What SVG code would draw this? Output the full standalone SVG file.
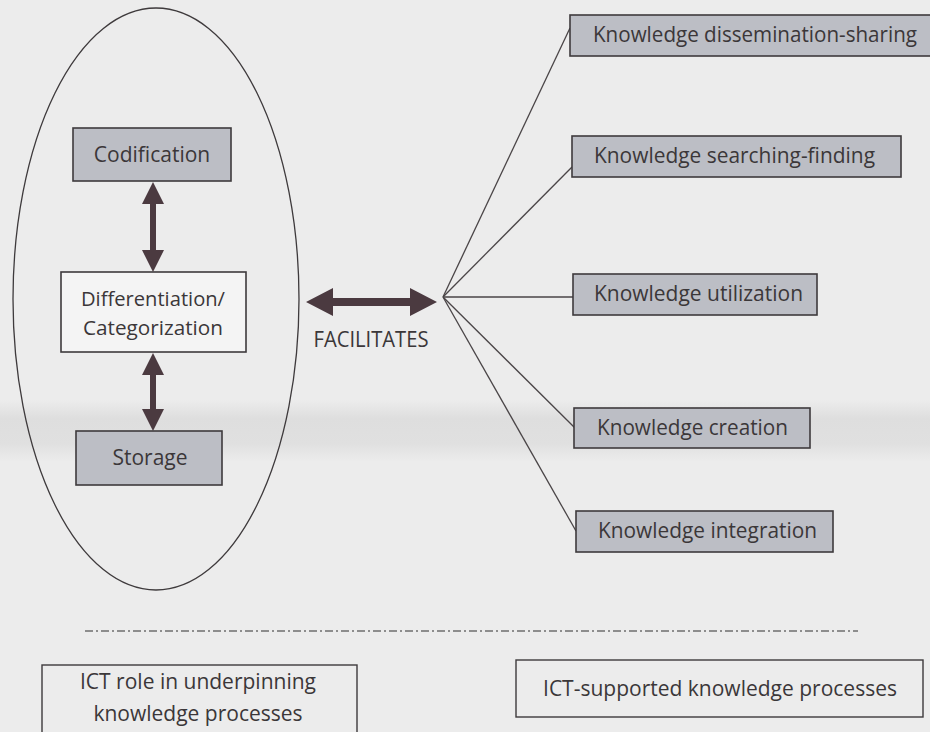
<svg xmlns="http://www.w3.org/2000/svg" width="930" height="732" viewBox="0 0 930 732">
  <style>
    .lbl { font-family: "Open Sans", "Noto Sans", "DejaVu Sans", sans-serif; font-size: 21px; fill: #3b3739; }
    .tight { font-size: 20px; }
    .grey { fill: #bcbec5; stroke: #3e3a3c; stroke-width: 1.6; }
    .fan { stroke: #4a4547; stroke-width: 1.3; fill: none; }
    .dbl { fill: #4b3a40; }
  </style>
  <defs>
    <linearGradient id="band" x1="0" y1="0" x2="0" y2="1">
      <stop offset="0" stop-color="#ececec"/>
      <stop offset="0.3" stop-color="#dedede"/>
      <stop offset="0.7" stop-color="#e0e0e0"/>
      <stop offset="1" stop-color="#ececec"/>
    </linearGradient>
  </defs>

  <!-- paper -->
  <rect width="930" height="732" fill="#ececec"/>
  <rect x="0" y="400" width="930" height="62" fill="url(#band)"/>

  <!-- boundary of the ICT-role zone -->
  <ellipse id="zone" cx="156" cy="299" rx="143" ry="291" fill="none" stroke="#3e3a3c" stroke-width="1.3"/>

  <!-- connectors -->
  <g id="connectors">
    <!-- Codification <-> Differentiation -->
    <path class="dbl" d="M153,182 L164,204 L156,204 L156,250 L164,250 L153,272 L142,250 L150,250 L150,204 L142,204 Z"/>
    <!-- Differentiation <-> Storage -->
    <path class="dbl" d="M153,353 L164,375 L156,375 L156,409 L164,409 L153,431 L142,409 L150,409 L150,375 L142,375 Z"/>
    <!-- FACILITATES -->
    <path class="dbl" d="M306,302 L333,288 L333,298 L410,298 L410,288 L437,302 L410,316 L410,306 L333,306 L333,316 Z"/>
    <!-- fan to knowledge processes -->
    <line class="fan" x1="443" y1="297" x2="570" y2="28"/>
    <line class="fan" x1="443" y1="297" x2="572" y2="167"/>
    <line class="fan" x1="443" y1="297" x2="573" y2="297"/>
    <line class="fan" x1="443" y1="297" x2="575" y2="428"/>
    <line class="fan" x1="443" y1="297" x2="576" y2="531"/>
    <!-- separator -->
    <line x1="85" y1="631" x2="858" y2="631" stroke="#6e6e6e" stroke-width="1.3" stroke-dasharray="8 3 2 3"/>
  </g>

  <text class="lbl" x="371" y="347" text-anchor="middle" textLength="115" lengthAdjust="spacingAndGlyphs">FACILITATES</text>

  <g id="codification">
    <rect class="grey" x="73" y="128" width="158" height="53"/>
    <text class="lbl" x="152" y="162" text-anchor="middle">Codification</text>
  </g>

  <g id="differentiation">
    <rect x="61" y="272" width="185" height="80" fill="#f4f4f4" stroke="#3e3a3c" stroke-width="1.6"/>
    <text class="lbl tight" x="153" y="306" text-anchor="middle" textLength="144" lengthAdjust="spacingAndGlyphs">Differentiation/</text>
    <text class="lbl tight" x="153" y="335" text-anchor="middle" textLength="140" lengthAdjust="spacingAndGlyphs">Categorization</text>
  </g>

  <g id="storage">
    <rect class="grey" x="76" y="431" width="146" height="54"/>
    <text class="lbl" x="150" y="465" text-anchor="middle">Storage</text>
  </g>

  <g id="dissemination">
    <rect class="grey" x="570" y="15" width="362" height="41"/>
    <text class="lbl" x="593" y="42" textLength="324" lengthAdjust="spacingAndGlyphs">Knowledge dissemination-sharing</text>
  </g>

  <g id="searching">
    <rect class="grey" x="572" y="136" width="329" height="41"/>
    <text class="lbl" x="594" y="163" textLength="281" lengthAdjust="spacingAndGlyphs">Knowledge searching-finding</text>
  </g>

  <g id="utilization">
    <rect class="grey" x="573" y="274" width="244" height="41"/>
    <text class="lbl" x="594" y="301" textLength="209" lengthAdjust="spacingAndGlyphs">Knowledge utilization</text>
  </g>

  <g id="creation">
    <rect class="grey" x="574" y="408" width="236" height="40"/>
    <text class="lbl" x="597" y="435" textLength="191" lengthAdjust="spacingAndGlyphs">Knowledge creation</text>
  </g>

  <g id="integration">
    <rect class="grey" x="576" y="511" width="257" height="41"/>
    <text class="lbl" x="598" y="538" textLength="219" lengthAdjust="spacingAndGlyphs">Knowledge integration</text>
  </g>

  <g id="legend-ict-role">
    <rect x="42" y="665" width="315" height="70" fill="none" stroke="#3e3a3c" stroke-width="1.4"/>
    <text class="lbl" x="198" y="689" text-anchor="middle">ICT role in underpinning</text>
    <text class="lbl" x="198" y="721" text-anchor="middle">knowledge processes</text>
  </g>

  <g id="legend-ict-supported">
    <rect x="516" y="660" width="407" height="57" fill="none" stroke="#3e3a3c" stroke-width="1.4"/>
    <text class="lbl" x="720" y="696" text-anchor="middle">ICT-supported knowledge processes</text>
  </g>
</svg>
